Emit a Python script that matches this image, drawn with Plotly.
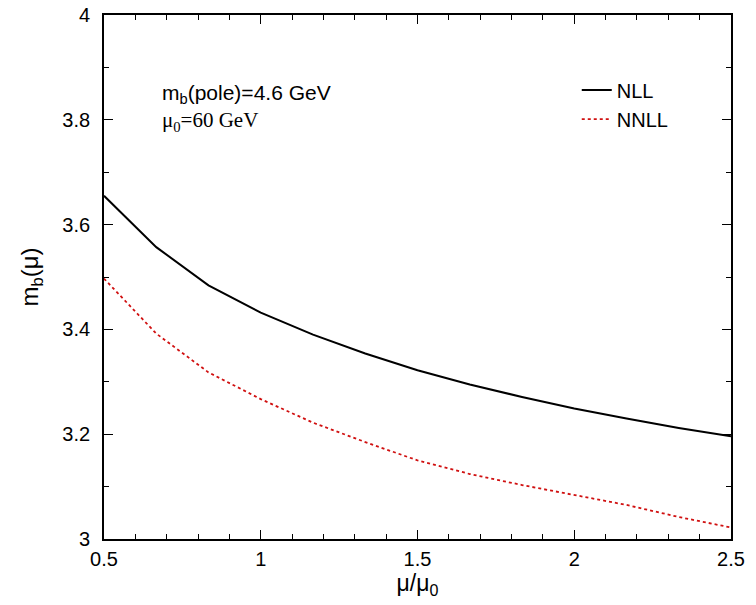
import plotly.graph_objects as go

# Running b-quark mass m_b(mu) vs mu/mu0 for mu = 30..150 GeV (mu0 = 60 GeV)
mu_ratio = [0.5, 0.6667, 0.8333, 1.0, 1.1667, 1.3333, 1.5, 1.6667, 1.8333, 2.0, 2.1667, 2.3333, 2.5]
mb_nll = [3.655, 3.557, 3.484, 3.432, 3.390, 3.354, 3.322, 3.295, 3.271, 3.249, 3.230, 3.212, 3.196]
mb_nnll = [3.497, 3.392, 3.318, 3.267, 3.222, 3.185, 3.150, 3.124, 3.103, 3.084, 3.065, 3.042, 3.022]

x_ticks = [0.5, 1, 1.5, 2, 2.5]
y_ticks = [3, 3.2, 3.4, 3.6, 3.8, 4]
x_range = [0.5, 2.5]
y_range = [3, 4]

sans = "Liberation Sans, Arial, sans-serif"
serif = "Liberation Serif, Times New Roman, serif"

fig = go.Figure()
fig.add_trace(go.Scatter(x=mu_ratio, y=mb_nll, mode="lines", name="NLL",
                         line=dict(color="black", width=2)))
fig.add_trace(go.Scatter(x=mu_ratio, y=mb_nnll, mode="lines", name="NNLL",
                         line=dict(color="#d01010", width=1.8, dash="dot")))
# invisible companion trace so the top/right tick axes get drawn
fig.add_trace(go.Scatter(x=mu_ratio, y=mb_nll, mode="lines", xaxis="x2", yaxis="y2",
                         line=dict(color="rgba(0,0,0,0)"), showlegend=False, hoverinfo="skip"))

tick_style = dict(ticks="inside", ticklen=9, tickwidth=1.3, tickcolor="black")
minor_style = dict(dtick=0.1, ticks="inside", ticklen=5, tickwidth=1.3, tickcolor="black")
frame = dict(showgrid=False, zeroline=False, showline=True, linecolor="black", linewidth=1.8,
             automargin=False)
tick_font = dict(family=sans, size=20, color="black")

fig.update_layout(
    xaxis=dict(
        range=x_range, tickvals=x_ticks, ticktext=[str(v) for v in x_ticks],
        minor=minor_style, tickfont=tick_font, ticklabelstandoff=1,
        title=dict(text="μ/μ<sub>0</sub>", font=dict(family=sans, size=23, color="black"), standoff=1),
        **tick_style, **frame,
    ),
    yaxis=dict(
        range=y_range, tickvals=y_ticks, ticktext=["3", "3.2", "3.4", "3.6", "3.8", "4"],
        minor=minor_style, tickfont=tick_font, ticklabelstandoff=8,
        title=dict(text="m<sub>b</sub>(μ)", font=dict(family=sans, size=24, color="black"), standoff=17),
        **tick_style, **frame,
    ),
    # top and right frame edges carrying the mirrored tick marks
    xaxis2=dict(overlaying="x", side="top", range=x_range, tickvals=x_ticks,
                showticklabels=False, minor=minor_style, **tick_style, **frame),
    yaxis2=dict(overlaying="y", side="right", range=y_range, tickvals=y_ticks,
                showticklabels=False, minor=minor_style, **tick_style, **frame),
)

fig.add_annotation(
    x=0.09, y=0.822, xref="paper", yref="paper", xanchor="left", yanchor="middle", align="left",
    text=("m<sub>b</sub>(pole)=4.6 GeV<br>"
          "<span style='font-family:Liberation Serif, Times New Roman, serif'>μ<sub>0</sub>=60 GeV</span>"),
    showarrow=False, font=dict(family=sans, size=21, color="black"),
)

fig.update_layout(
    width=756, height=605,
    margin=dict(l=104, r=25, t=15, b=66, autoexpand=False),
    paper_bgcolor="white", plot_bgcolor="white",
    showlegend=True,
    legend=dict(x=0.754, y=0.894, xanchor="left", yanchor="top",
                bgcolor="rgba(0,0,0,0)", font=dict(family=sans, size=20, color="black"),
                tracegroupgap=0, itemwidth=30),
)

fig.write_html("out.html")
